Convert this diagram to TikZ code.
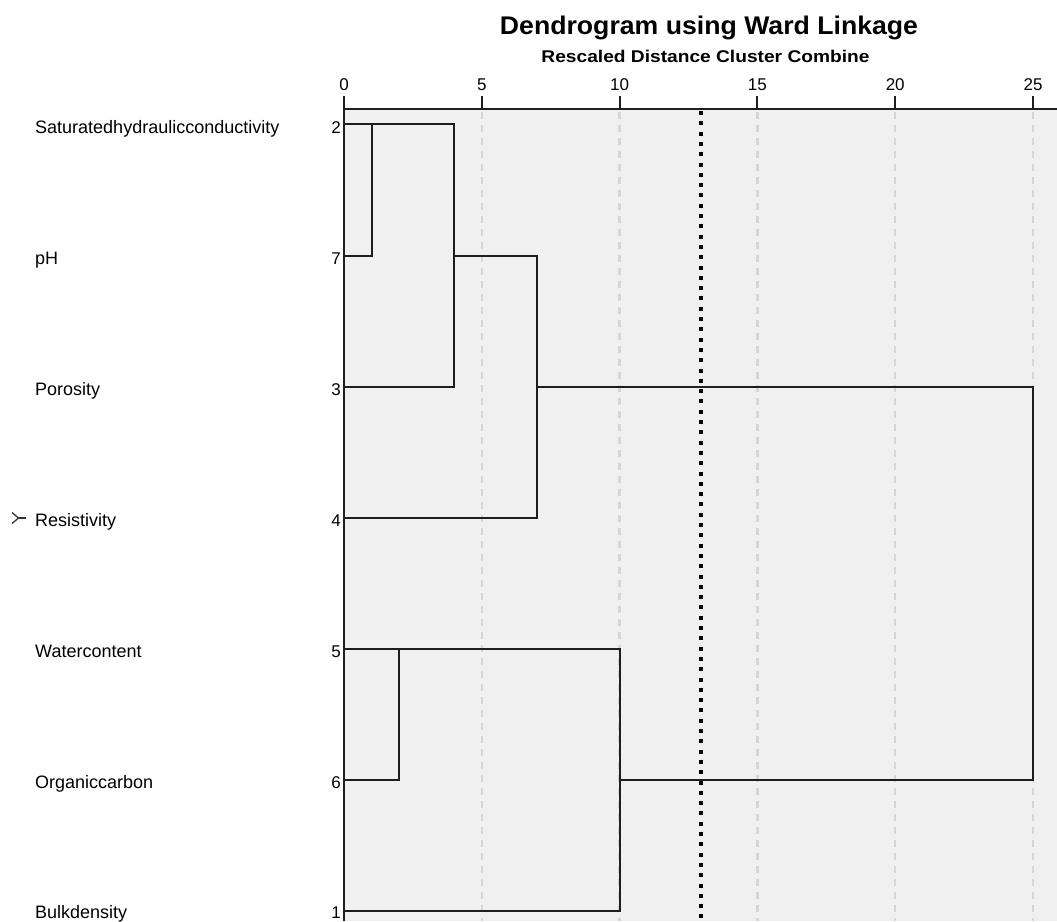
\documentclass[tikz,border=0pt]{standalone}
\usepackage{fontspec}
\setmainfont{Liberation Sans}
\usepackage{graphicx}
\definecolor{plotbg}{HTML}{F0F0F0}
\definecolor{gridgray}{HTML}{D6D6D6}
\definecolor{linkcol}{HTML}{1E1E1E}
\begin{document}
\begin{tikzpicture}[x=1pt,y=-1pt]
\tikzset{
  lbl/.style={anchor=base west, inner sep=0pt, font=\fontsize{18}{20}\selectfont},
  rownum/.style={anchor=base east, inner sep=0pt, font=\fontsize{17}{20}\selectfont},
  ticklbl/.style={anchor=base, inner sep=0pt, font=\fontsize{17}{20}\selectfont},
  link/.style={draw=linkcol, line width=2pt, line cap=rect},
  gridln/.style={draw=gridgray, line width=2.4pt, dash pattern=on 7pt off 6pt},
  axisln/.style={draw=linkcol, line width=2pt},
  cutln/.style={draw=black, line width=4pt, dash pattern=on 4pt off 6.3pt},
}
\useasboundingbox (0,0) rectangle (1057,921);
% plot background
\fill[plotbg] (344,108.5) rectangle (1057,921);
% grid lines
\foreach \d in {5,10,15,20,25}{
  \draw[gridln] ({344+27.56*\d},112) -- ({344+27.56*\d},921);
}
% axis
\draw[axisln] (344,108.5) -- (1057,108.5);
\draw[axisln] (344,96) -- (344,921);
\foreach \d in {0,5,10,15,20,25}{
  \draw[axisln] ({344+27.56*\d},96) -- ({344+27.56*\d},108.5);
  \node[ticklbl] (t\d) at ({344+27.56*\d},90) {\d};
}
% titles
\node[anchor=base, inner sep=0pt] (title) at (709,34)
  {\resizebox{418pt}{18.5pt}{\bfseries Dendrogram using Ward Linkage}};
\node[anchor=base, inner sep=0pt] (subtitle) at (705.5,62.5)
  {\resizebox{328pt}{12.3pt}{\bfseries Rescaled Distance Cluster Combine}};
% leaves: coordinates at left axis
\coordinate (r2) at (344,124);
\coordinate (r7) at (344,255.5);
\coordinate (r3) at (344,386.5);
\coordinate (r4) at (344,517.5);
\coordinate (r5) at (344,648.5);
\coordinate (r6) at (344,779.5);
\coordinate (r1) at (344,910.5);
% labels
\node[lbl] (L2) at (35,133.5) {Saturatedhydraulicconductivity};
\node[lbl] (L7) at (35,264.5) {pH};
\node[lbl] (L3) at (35,395.5) {Porosity};
\node[lbl] (L4) at (35,526.5) {Resistivity};
\node[lbl] (L5) at (35,657.5) {Watercontent};
\node[lbl] (L6) at (35,788.5) {Organiccarbon};
\node[lbl] (L1) at (35,918.5) {Bulkdensity};
\node[rownum] (N2) at (341,133) {2};
\node[rownum] (N7) at (341,264) {7};
\node[rownum] (N3) at (341,395) {3};
\node[rownum] (N4) at (341,526) {4};
\node[rownum] (N5) at (341,657) {5};
\node[rownum] (N6) at (341,788) {6};
\node[rownum] (N1) at (341,918.5) {1};
% selection marker
\draw[line width=1.3pt, draw=black!80] (12,512.5) -- (18.5,518) -- (12,523.5);
\draw[line width=1.3pt, draw=black!80] (18.5,518) -- (26,518);
% merge points
\coordinate (a) at (371.6,124);   % 2+7 top
\coordinate (a7) at (371.6,255.5);
\coordinate (b) at (454,124);     % (2,7)+3
\coordinate (b3) at (454,386.5);
\coordinate (bm) at (454,255.5);
\coordinate (c) at (537,255.5);   % +4
\coordinate (c4) at (537,517.5);
\coordinate (cm) at (537,386.5);
\coordinate (d) at (399,648.5);   % 5+6
\coordinate (d6) at (399,779.5);
\coordinate (e) at (620,648.5);   % +1
\coordinate (e1) at (620,910.5);
\coordinate (em) at (620,779.5);
\coordinate (f) at (1033,386.5);  % final
\coordinate (f2) at (1033,779.5);
% dendrogram
\draw[link] (r2) -- (a) -- (b);
\draw[link] (r7) -- (a7);
\draw[link] (a) -- (a7);
\draw[link] (b) -- (b3);
\draw[link] (r3) -- (b3);
\draw[link] (bm) -- (c) -- (c4);
\draw[link] (r4) -- (c4);
\draw[link] (cm) -- (f) -- (f2);
\draw[link] (r5) -- (d) -- (e) -- (e1);
\draw[link] (r6) -- (d6);
\draw[link] (d) -- (d6);
\draw[link] (r1) -- (e1);
\draw[link] (em) -- (f2);
% cut line
\coordinate (cut top) at (701,111);
\coordinate (cut bot) at (701,921);
\draw[cutln] (cut top) -- (cut bot);
\end{tikzpicture}
\end{document}
